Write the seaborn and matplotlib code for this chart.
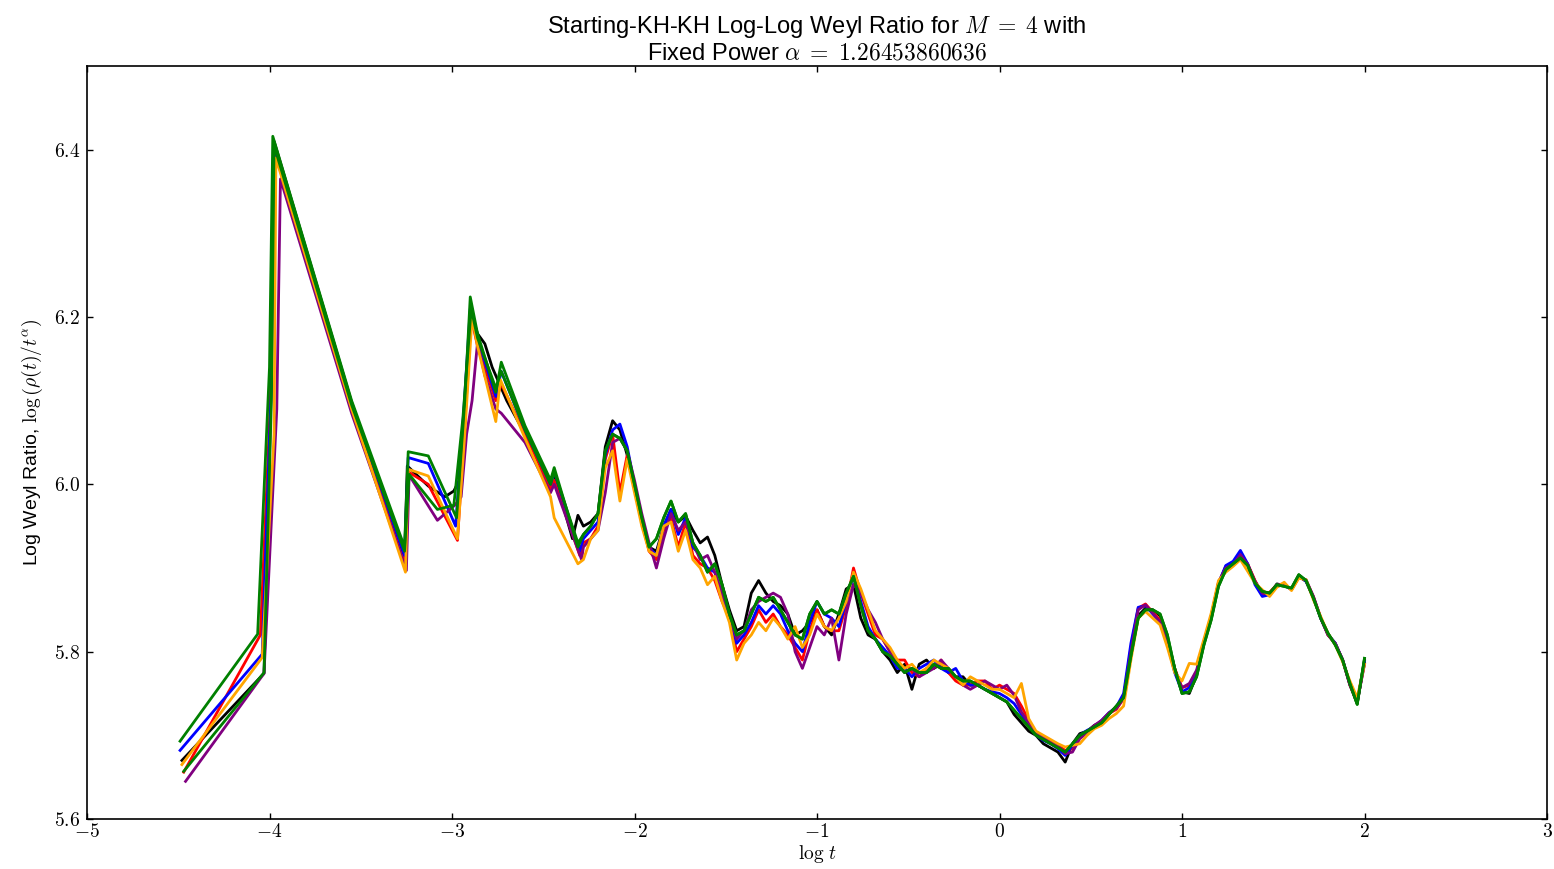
import numpy as np
import pandas as pd
import matplotlib
matplotlib.use("Agg")
import matplotlib.pyplot as plt
from matplotlib.ticker import FuncFormatter, MultipleLocator
import seaborn as sns

plt.rcParams['font.family'] = ['Liberation Sans', 'DejaVu Sans']
plt.rcParams['mathtext.fontset'] = 'cm'

SERIES = ['black', 'red', 'blue', 'purple', 'orange', 'green2', 'green']
COLORS = {'black': 'black', 'red': 'red', 'blue': 'blue', 'purple': 'purple',
          'orange': 'orange', 'green2': 'green', 'green': 'green'}

# early (sparse) part of each run
HEAD_X = {
    'green': [-4.49, -4.065, -4.0, -3.982, -3.55, -3.26, -3.24, -3.13, -2.975, -2.93, -2.90, -2.86, -2.76, -2.73, -2.60, -2.46, -2.44, -2.31],
    'green2': [-4.47, -4.03, -3.99, -3.975, -3.55, -3.26, -3.235, -3.08, -2.99, -2.94, -2.895, -2.86, -2.76, -2.73, -2.60, -2.46, -2.44, -2.31],
    'black': [-4.48, -4.03, -3.99, -3.975, -3.55, -3.26, -3.245, -3.13, -3.04, -2.99, -2.96, -2.93, -2.895, -2.86, -2.82, -2.78, -2.70, -2.60, -2.50, -2.46, -2.44, -2.34, -2.31],
    'red': [-4.47, -4.05, -3.995, -3.975, -3.55, -3.26, -3.24, -3.13, -2.97, -2.93, -2.895, -2.86, -2.76, -2.73, -2.60, -2.46, -2.44, -2.30],
    'blue': [-4.49, -4.04, -3.99, -3.978, -3.55, -3.26, -3.24, -3.13, -2.98, -2.935, -2.90, -2.86, -2.76, -2.73, -2.60, -2.46, -2.44, -2.30],
    'purple': [-4.46, -4.03, -3.96, -3.94, -3.55, -3.25, -3.235, -3.08, -2.985, -2.95, -2.92, -2.89, -2.86, -2.82, -2.76, -2.73, -2.60, -2.46, -2.44, -2.29],
    'orange': [-4.48, -4.04, -3.975, -3.965, -3.55, -3.255, -3.24, -3.13, -2.97, -2.93, -2.89, -2.86, -2.76, -2.735, -2.60, -2.46, -2.44, -2.31],
}
HEAD_Y = {
    'green': [5.693, 5.821, 6.14, 6.416, 6.100, 5.925, 6.039, 6.034, 5.960, 6.100, 6.224, 6.180, 6.110, 6.146, 6.070, 6.005, 6.020, 5.925],
    'green2': [5.657, 5.775, 6.10, 6.405, 6.095, 5.920, 6.012, 5.970, 5.975, 6.080, 6.210, 6.175, 6.115, 6.135, 6.065, 6.000, 6.015, 5.930],
    'black': [5.670, 5.774, 6.12, 6.41, 6.098, 5.912, 6.022, 5.998, 5.985, 5.992, 6.005, 6.090, 6.205, 6.180, 6.168, 6.140, 6.100, 6.060, 6.018, 6.005, 6.012, 5.935, 5.963],
    'red': [5.656, 5.820, 6.10, 6.40, 6.092, 5.905, 6.015, 6.000, 5.933, 6.070, 6.200, 6.165, 6.100, 6.120, 6.060, 5.995, 6.005, 5.915],
    'blue': [5.682, 5.797, 6.12, 6.405, 6.097, 5.915, 6.032, 6.025, 5.950, 6.090, 6.210, 6.175, 6.105, 6.135, 6.065, 6.000, 6.015, 5.920],
    'purple': [5.645, 5.774, 6.09, 6.365, 6.085, 5.897, 6.011, 5.957, 5.975, 5.985, 6.060, 6.100, 6.170, 6.130, 6.090, 6.085, 6.050, 5.990, 6.000, 5.910],
    'orange': [5.665, 5.793, 6.06, 6.390, 6.090, 5.895, 6.018, 6.010, 5.935, 6.060, 6.200, 6.165, 6.075, 6.125, 6.055, 5.985, 5.960, 5.905],
}

# dense part, common log t grid from -2.28 to 2.00
BODY_X = np.linspace(-2.28, 2.00, 108)

BODY_GREEN = [5.940, 5.950, 5.965, 6.040, 6.060, 6.055, 6.040, 6.000, 5.960, 5.925, 5.935, 5.960, 5.980, 5.955, 5.965, 5.930, 5.915, 5.895, 5.905, 5.880,
              5.845, 5.820, 5.825, 5.845, 5.865, 5.860, 5.865, 5.850, 5.835, 5.820, 5.815, 5.845, 5.860, 5.845, 5.850, 5.845, 5.870, 5.890, 5.855, 5.825,
              5.815, 5.800, 5.795, 5.785, 5.775, 5.780, 5.775, 5.775, 5.785, 5.780, 5.780, 5.770, 5.765, 5.765, 5.760, 5.755, 5.750, 5.745, 5.740, 5.730,
              5.720, 5.710, 5.700, 5.695, 5.690, 5.685, 5.680, 5.690, 5.700, 5.705, 5.710, 5.715, 5.725, 5.735, 5.745, 5.795, 5.840, 5.850, 5.850, 5.845,
              5.820, 5.780, 5.750, 5.752, 5.770, 5.808, 5.838, 5.878, 5.898, 5.905, 5.912, 5.903, 5.882, 5.872, 5.870, 5.880, 5.878, 5.876, 5.892, 5.885,
              5.864, 5.840, 5.822, 5.808, 5.790, 5.762, 5.737, 5.792]
BODY_BLACK = [5.950, 5.955, 5.965, 6.045, 6.076, 6.065, 6.035, 5.995, 5.955, 5.925, 5.920, 5.950, 5.970, 5.955, 5.962, 5.945, 5.930, 5.937, 5.915, 5.880,
              5.850, 5.825, 5.830, 5.870, 5.885, 5.870, 5.860, 5.855, 5.845, 5.820, 5.825, 5.835, 5.850, 5.830, 5.820, 5.845, 5.875, 5.880, 5.840, 5.820,
              5.815, 5.800, 5.790, 5.775, 5.785, 5.755, 5.785, 5.790, 5.780, 5.785, 5.775, 5.770, 5.770, 5.760, 5.760, 5.755, 5.750, 5.745, 5.740, 5.725,
              5.715, 5.705, 5.700, 5.690, 5.685, 5.680, 5.668, 5.690, 5.702, 5.705, 5.712, 5.716, 5.726, 5.733, 5.746, 5.800, 5.843, 5.852, 5.850, 5.843,
              5.815, 5.780, 5.752, 5.750, 5.772, 5.810, 5.840, 5.880, 5.902, 5.906, 5.914, 5.904, 5.884, 5.870, 5.869, 5.881, 5.879, 5.875, 5.890, 5.884,
              5.864, 5.840, 5.820, 5.810, 5.790, 5.760, 5.738, 5.790]
BODY_RED = [5.930, 5.935, 5.950, 6.030, 6.060, 5.990, 6.035, 5.995, 5.955, 5.920, 5.910, 5.945, 5.960, 5.925, 5.955, 5.915, 5.905, 5.900, 5.885, 5.860,
            5.840, 5.800, 5.815, 5.830, 5.850, 5.835, 5.845, 5.830, 5.820, 5.805, 5.790, 5.825, 5.850, 5.830, 5.825, 5.825, 5.855, 5.900, 5.870, 5.845,
            5.820, 5.815, 5.800, 5.790, 5.790, 5.775, 5.770, 5.780, 5.780, 5.790, 5.775, 5.765, 5.760, 5.760, 5.765, 5.765, 5.755, 5.760, 5.755, 5.750,
            5.735, 5.718, 5.702, 5.697, 5.692, 5.688, 5.682, 5.684, 5.698, 5.704, 5.711, 5.716, 5.726, 5.731, 5.744, 5.805, 5.852, 5.857, 5.847, 5.838,
            5.812, 5.780, 5.757, 5.760, 5.776, 5.810, 5.842, 5.882, 5.901, 5.906, 5.916, 5.905, 5.885, 5.869, 5.871, 5.880, 5.881, 5.874, 5.889, 5.885,
            5.866, 5.841, 5.820, 5.810, 5.790, 5.760, 5.740, 5.786]
BODY_BLUE = [5.935, 5.945, 5.955, 6.035, 6.065, 6.072, 6.045, 6.000, 5.960, 5.925, 5.915, 5.950, 5.970, 5.940, 5.960, 5.925, 5.915, 5.900, 5.895, 5.865,
             5.845, 5.810, 5.820, 5.835, 5.855, 5.845, 5.855, 5.845, 5.825, 5.810, 5.800, 5.835, 5.860, 5.845, 5.840, 5.830, 5.860, 5.890, 5.860, 5.830,
             5.815, 5.805, 5.795, 5.780, 5.780, 5.770, 5.780, 5.785, 5.790, 5.780, 5.775, 5.780, 5.765, 5.760, 5.760, 5.755, 5.752, 5.750, 5.745, 5.738,
             5.725, 5.712, 5.700, 5.694, 5.690, 5.684, 5.676, 5.688, 5.700, 5.706, 5.710, 5.718, 5.727, 5.734, 5.750, 5.810, 5.853, 5.855, 5.845, 5.835,
             5.810, 5.775, 5.752, 5.757, 5.775, 5.812, 5.843, 5.882, 5.903, 5.908, 5.921, 5.905, 5.880, 5.866, 5.868, 5.880, 5.879, 5.875, 5.891, 5.884,
             5.865, 5.840, 5.821, 5.810, 5.790, 5.761, 5.740, 5.788]
BODY_PURPLE = [5.925, 5.935, 5.945, 5.990, 6.050, 6.055, 6.040, 6.005, 5.965, 5.930, 5.900, 5.935, 5.965, 5.945, 5.955, 5.930, 5.910, 5.915, 5.895, 5.870,
               5.845, 5.815, 5.825, 5.850, 5.860, 5.865, 5.870, 5.865, 5.845, 5.800, 5.780, 5.805, 5.830, 5.820, 5.840, 5.790, 5.845, 5.880, 5.870, 5.850,
               5.835, 5.815, 5.800, 5.785, 5.775, 5.780, 5.770, 5.775, 5.780, 5.790, 5.780, 5.770, 5.760, 5.755, 5.760, 5.765, 5.760, 5.755, 5.760, 5.748,
               5.728, 5.715, 5.702, 5.698, 5.694, 5.688, 5.678, 5.680, 5.696, 5.703, 5.712, 5.718, 5.727, 5.732, 5.744, 5.800, 5.850, 5.856, 5.846, 5.835,
               5.810, 5.778, 5.757, 5.762, 5.778, 5.812, 5.841, 5.883, 5.900, 5.904, 5.916, 5.904, 5.884, 5.870, 5.870, 5.878, 5.880, 5.874, 5.889, 5.886,
               5.866, 5.840, 5.820, 5.809, 5.791, 5.761, 5.740, 5.785]
BODY_ORANGE = [5.910, 5.935, 5.945, 6.020, 6.040, 5.980, 6.030, 5.990, 5.950, 5.920, 5.915, 5.950, 5.955, 5.920, 5.945, 5.910, 5.900, 5.880, 5.890, 5.860,
               5.835, 5.790, 5.810, 5.820, 5.835, 5.825, 5.840, 5.830, 5.815, 5.830, 5.805, 5.820, 5.845, 5.830, 5.825, 5.840, 5.860, 5.895, 5.875, 5.850,
               5.825, 5.815, 5.805, 5.790, 5.780, 5.785, 5.775, 5.780, 5.790, 5.785, 5.780, 5.770, 5.760, 5.770, 5.765, 5.760, 5.755, 5.755, 5.750, 5.745,
               5.762, 5.720, 5.705, 5.700, 5.695, 5.690, 5.686, 5.688, 5.690, 5.700, 5.708, 5.712, 5.720, 5.726, 5.735, 5.790, 5.840, 5.848, 5.840, 5.832,
               5.805, 5.775, 5.765, 5.786, 5.785, 5.815, 5.846, 5.885, 5.895, 5.902, 5.910, 5.896, 5.882, 5.874, 5.866, 5.877, 5.883, 5.873, 5.888, 5.886,
               5.862, 5.842, 5.822, 5.808, 5.788, 5.765, 5.745, 5.785]

BODY_Y = {'black': BODY_BLACK, 'red': BODY_RED, 'blue': BODY_BLUE, 'purple': BODY_PURPLE,
          'orange': BODY_ORANGE, 'green2': BODY_GREEN, 'green': BODY_GREEN}

rows = []
for s in SERIES:
    xs = list(HEAD_X[s]) + list(BODY_X)
    ys = list(HEAD_Y[s]) + list(BODY_Y[s])
    for i, (xv, yv) in enumerate(zip(xs, ys)):
        rows.append({'series': s, 'order': i, 'logt': xv, 'ratio': yv})
df = pd.DataFrame(rows)

fig = plt.figure(figsize=(15.54, 8.69), dpi=100)
ax = fig.add_axes([87 / 1554, 50 / 869, 1460 / 1554, 753 / 869])

sns.lineplot(data=df, x='logt', y='ratio', hue='series', hue_order=SERIES,
             palette=COLORS, estimator=None, sort=False, units='series',
             linewidth=2, legend=False, ax=ax)

ax.set_xlim(-5, 3)
ax.set_ylim(5.6, 6.5)
ax.xaxis.set_major_locator(MultipleLocator(1))
ax.yaxis.set_major_locator(MultipleLocator(0.2))
ax.xaxis.set_major_formatter(FuncFormatter(lambda v, p: r'$%d$' % int(round(v))))
ax.yaxis.set_major_formatter(FuncFormatter(lambda v, p: r'$%.1f$' % v))
ax.tick_params(direction='in', top=True, right=True, length=4, width=1, labelsize=14)
ax.tick_params(axis='x', pad=3)
ax.tick_params(axis='y', pad=5)
for sp in ax.spines.values():
    sp.set_linewidth(1.2)

ax.set_xlabel(r'$\log\, t$', fontsize=14, labelpad=1)
ax.set_ylabel(r'Log Weyl Ratio, $\log\left(\rho(t)/t^\alpha\right)$', fontsize=14, labelpad=6)
ax.set_title('Starting-KH-KH Log-Log Weyl Ratio for $M\\;=\\;4$ with\nFixed Power $\\alpha\\;=\\;1.26453860636$',
             fontsize=17, pad=5, linespacing=1.15)

fig.savefig('out.png', dpi=100)
